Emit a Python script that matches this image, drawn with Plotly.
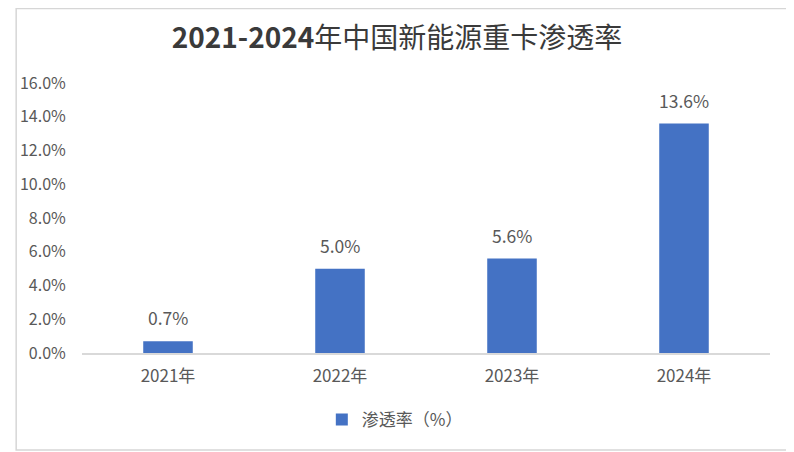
import plotly.graph_objects as go

categories = ["2021年", "2022年", "2023年", "2024年"]
values = [0.7, 5.0, 5.6, 13.6]
value_labels = ["0.7%", "5.0%", "5.6%", "13.6%"]
tick_vals = [0, 2, 4, 6, 8, 10, 12, 14, 16]
tick_text = ["0.0%", "2.0%", "4.0%", "6.0%", "8.0%", "10.0%", "12.0%", "14.0%", "16.0%"]
series_name = "渗透率（%）"
title_text = "<b>2021-2024</b>年中国新能源重卡渗透率"

FONT = "Noto Sans CJK SC"
BAR = "#4472C4"
GRAY = "#595959"

# page offset of ~8px (body margin) is compensated in the margins
W, H = 794, 452
L, R, T, B = 67, 32, 75, 107
PW, PH = W - L - R, H - T - B

fig = go.Figure()
fig.add_trace(go.Bar(
    x=categories, y=values, name=series_name,
    marker=dict(color=BAR, line=dict(width=0)),
    showlegend=True,
))

for c, v, t in zip(categories, values, value_labels):
    fig.add_annotation(x=c, y=v, text=t, showarrow=False, yanchor="bottom",
                       yshift=9, font=dict(family=FONT, size=17.5, color=GRAY))

# light frame
fx0, fx1 = (0.5 - L) / PW, (782 - L) / PW
fy1, fy0 = (T + PH - 0.5) / PH, (T + PH - 442) / PH
fig.add_shape(type="rect", xref="paper", yref="paper",
              x0=fx0, x1=fx1, y0=fy0, y1=fy1,
              line=dict(color="#d6d6d6", width=1.5), fillcolor="rgba(0,0,0,0)", layer="below")

fig.update_layout(
    width=W, height=H,
    margin=dict(l=L, r=R, t=T, b=B),
    paper_bgcolor="white", plot_bgcolor="white",
    font=dict(family=FONT, color=GRAY),
    title=dict(text=title_text, x=(397 - 8) / W, xanchor="center", y=1 - 30 / H, yanchor="middle",
               font=dict(family=FONT, size=28, color="#3a3a3a")),
    bargap=0.712,
    showlegend=True,
    legend=dict(orientation="h", x=(391 - 8 - L) / PW, xanchor="center",
                y=(T + PH - 412) / PH, yanchor="middle",
                font=dict(family=FONT, size=17, color=GRAY), itemwidth=30),
    xaxis=dict(showline=True, linecolor="#d9d9d9", linewidth=1.5, showgrid=False,
               ticks="outside", ticklen=7, tickcolor="rgba(0,0,0,0)",
               tickfont=dict(family=FONT, size=17, color=GRAY)),
    yaxis=dict(range=[0, 16], tickvals=tick_vals, ticktext=tick_text, showgrid=False,
               showline=False, zeroline=False, ticks="outside", ticklen=12,
               tickcolor="rgba(0,0,0,0)",
               tickfont=dict(family=FONT, size=16, color=GRAY)),
)

fig.write_html("out.html")
